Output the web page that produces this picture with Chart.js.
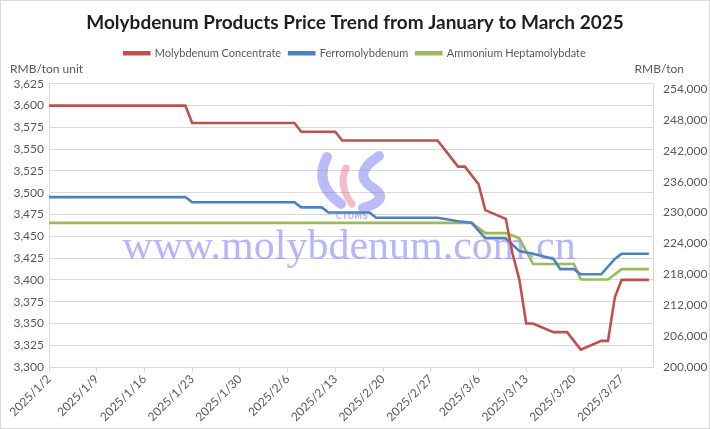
<!DOCTYPE html>
<html>
<head>
<meta charset="utf-8">
<script src="https://cdn.jsdelivr.net/npm/chart.js@4.4.1/dist/chart.umd.min.js"></script>
<style>
  html, body { margin: 0; padding: 0; background: #fff; }
  #wrap { width: 708px; height: 427px; border: 1px solid #d9d9d9; }
</style>
</head>
<body>
<div id="wrap"><canvas id="priceChart" width="708" height="427"></canvas></div>
<script>
const concentrateDates = ["2025/1/2", "2025/1/22", "2025/1/23", "2025/2/7", "2025/2/8", "2025/2/13", "2025/2/14",
    "2025/2/28", "2025/3/3", "2025/3/4", "2025/3/6", "2025/3/7", "2025/3/10", "2025/3/11", "2025/3/12", "2025/3/13",
    "2025/3/14", "2025/3/17", "2025/3/19", "2025/3/21", "2025/3/24", "2025/3/25", "2025/3/26", "2025/3/27", "2025/3/31"];
const concentrateValues = [3600, 3600, 3580, 3580, 3570, 3570, 3560, 3560, 3530, 3530, 3510, 3480, 3470, 3430, 3400,
    3350, 3350, 3340, 3340, 3320, 3330, 3330, 3380, 3400, 3400];

const ferroDates = ["2025/1/2", "2025/1/22", "2025/1/23", "2025/2/7", "2025/2/8", "2025/2/11", "2025/2/12", "2025/2/18",
    "2025/2/19", "2025/2/28", "2025/3/3", "2025/3/5", "2025/3/7", "2025/3/10", "2025/3/12", "2025/3/14", "2025/3/17",
    "2025/3/18", "2025/3/20", "2025/3/21", "2025/3/24", "2025/3/26", "2025/3/27", "2025/3/31"];
const ferroValues = [233000, 233000, 232000, 232000, 231000, 231000, 230000, 230000, 229000, 229000, 228300, 228000,
    225000, 225000, 222500, 222000, 221000, 219000, 219000, 218000, 218000, 221000, 222000, 222000];

const ammoniumDates = ["2025/1/2", "2025/3/5", "2025/3/7", "2025/3/10", "2025/3/12", "2025/3/14", "2025/3/20",
    "2025/3/21", "2025/3/25", "2025/3/27", "2025/3/31"];
const ammoniumValues = [228000, 228000, 226000, 226000, 225000, 220000, 220000, 217000, 217000, 219000, 219000];

const seriesNames = ["Molybdenum Concentrate", "Ferromolybdenum", "Ammonium Heptamolybdate"];
const seriesColors = ["#c0504d", "#4f81bd", "#9bbb59"];

// axis tick values
const leftTicks = [3300, 3325, 3350, 3375, 3400, 3425, 3450, 3475, 3500, 3525, 3550, 3575, 3600, 3625];
const rightTicks = [200000, 206000, 212000, 218000, 224000, 230000, 236000, 242000, 248000, 254000];
const rightMax = 255000;

const startDate = "2025/1/2";
const dayMs = 86400000;

function dayIndex(str) {
    const [y, m, d] = str.split("/").map(Number);
    const [y0, m0, d0] = startDate.split("/").map(Number);
    return Math.round((Date.UTC(y, m - 1, d) - Date.UTC(y0, m0 - 1, d0)) / dayMs);
}

function dayLabel(v) {
    const [y0, m0, d0] = startDate.split("/").map(Number);
    const dt = new Date(Date.UTC(y0, m0 - 1, d0) + v * dayMs);
    return `${dt.getUTCFullYear()}/${dt.getUTCMonth() + 1}/${dt.getUTCDate()}`;
}

const toPoints = (dates, values) => dates.map((d, i) => ({ x: dayIndex(d), y: values[i] }));

const grey = "#595959";
const gridGrey = "#d9d9d9";
const baseFont = "Lato, 'Open Sans', sans-serif";

// extra room under the legend for the unit captions
const legendGap = {
    id: "legendGap",
    beforeInit(chart) {
        const fit = chart.legend.fit;
        chart.legend.fit = function () {
            fit.bind(chart.legend)();
            this.height += 15;
        };
    }
};

// watermark + axis unit captions
const decorPlugin = {
    id: "decor",
    beforeDatasetsDraw(chart) {
        const { ctx } = chart;
        ctx.save();
        // rough logo
        const lx = 318, ly = 153;
        ctx.lineCap = "round";
        ctx.strokeStyle = "rgba(120,120,240,0.5)";
        ctx.lineWidth = 10;
        ctx.beginPath();
        ctx.moveTo(lx + 8, ly + 3);
        ctx.quadraticCurveTo(lx - 6, ly + 30, lx + 22, ly + 50);
        ctx.stroke();
        ctx.beginPath();
        ctx.moveTo(lx + 60, ly + 2);
        ctx.quadraticCurveTo(lx + 32, ly + 20, lx + 54, ly + 34);
        ctx.quadraticCurveTo(lx + 72, ly + 46, lx + 44, ly + 54);
        ctx.stroke();
        ctx.strokeStyle = "rgba(240,120,140,0.5)";
        ctx.lineWidth = 7;
        ctx.beginPath();
        ctx.moveTo(lx + 27, ly + 14);
        ctx.quadraticCurveTo(lx + 19, ly + 32, lx + 33, ly + 50);
        ctx.stroke();
        ctx.fillStyle = "rgba(120,120,240,0.5)";
        ctx.font = "bold 8px 'DejaVu Sans', sans-serif";
        ctx.textAlign = "center";
        ctx.fillText("CTOMS", lx + 33, ly + 63);

        ctx.fillStyle = "rgba(110,110,250,0.5)";
        ctx.font = "42px 'Liberation Serif', serif";
        ctx.textAlign = "center";
        ctx.textBaseline = "alphabetic";
        ctx.fillText("www.molybdenum.com.cn", 348, 258);
        ctx.restore();
    },
    afterDraw(chart) {
        const { ctx } = chart;
        ctx.save();
        ctx.fillStyle = grey;
        ctx.font = `12px ${baseFont}`;
        ctx.textBaseline = "middle";
        ctx.textAlign = "left";
        ctx.fillText("RMB/ton unit", 9, 68);
        ctx.textAlign = "right";
        ctx.fillText("RMB/ton", 683, 68);
        ctx.restore();
    }
};

const ctx = document.getElementById("priceChart").getContext("2d");
const datasets = [
    { label: seriesNames[0], data: toPoints(concentrateDates, concentrateValues), yAxisID: "y" },
    { label: seriesNames[1], data: toPoints(ferroDates, ferroValues), yAxisID: "y1" },
    { label: seriesNames[2], data: toPoints(ammoniumDates, ammoniumValues), yAxisID: "y1" },
].map((ds, i) => ({
    ...ds,
    borderColor: seriesColors[i],
    backgroundColor: seriesColors[i],
    borderWidth: 2.6,
    pointRadius: 0,
    tension: 0,
    fill: false,
}));

new Chart(ctx, {
    type: "line",
    data: { datasets },
    plugins: [legendGap, decorPlugin],
    options: {
        responsive: false,
        animation: false,
        plugins: {
            title: {
                display: true,
                text: "Molybdenum Products Price Trend from January to March 2025",
                color: "#1f1f1f",
                font: { family: baseFont, size: 19, weight: "bold" },
                padding: { top: 10, bottom: 6 },
            },
            legend: {
                display: true,
                labels: {
                    color: grey,
                    font: { family: baseFont, size: 11 },
                    boxWidth: 25,
                    boxHeight: 2,
                    padding: 8,
                },
            },
            tooltip: { enabled: false },
        },
        scales: {
            x: {
                type: "linear",
                min: 0,
                max: 88.6,
                grid: { drawOnChartArea: false, drawTicks: true, tickLength: 5, color: gridGrey },
                border: { color: gridGrey },
                ticks: {
                    stepSize: 7,
                    includeBounds: false,
                    autoSkip: false,
                    maxRotation: 45,
                    minRotation: 45,
                    color: grey,
                    font: { family: baseFont, size: 12 },
                    padding: 0,
                    callback: v => dayLabel(v),
                },
                afterFit: s => { s.height = 61; },
            },
            y: {
                position: "left",
                min: leftTicks[0],
                max: leftTicks[leftTicks.length - 1],
                grid: { color: gridGrey, drawTicks: false },
                border: { color: gridGrey },
                ticks: {
                    color: grey,
                    font: { family: baseFont, size: 12 },
                    padding: 5,
                    callback: v => v.toLocaleString("en-US"),
                },
                afterBuildTicks: s => { s.ticks = leftTicks.map(v => ({ value: v })); },
                afterFit: s => { s.width = 48; },
            },
            y1: {
                position: "right",
                min: rightTicks[0],
                max: rightMax,
                grid: { drawOnChartArea: false, drawTicks: false },
                border: { color: gridGrey },
                ticks: {
                    color: grey,
                    font: { family: baseFont, size: 12 },
                    padding: 10,
                    callback: v => v.toLocaleString("en-US"),
                },
                afterBuildTicks: s => { s.ticks = rightTicks.map(v => ({ value: v })); },
                afterFit: s => { s.width = 56; },
            },
        },
    },
});
</script>
</body>
</html>
